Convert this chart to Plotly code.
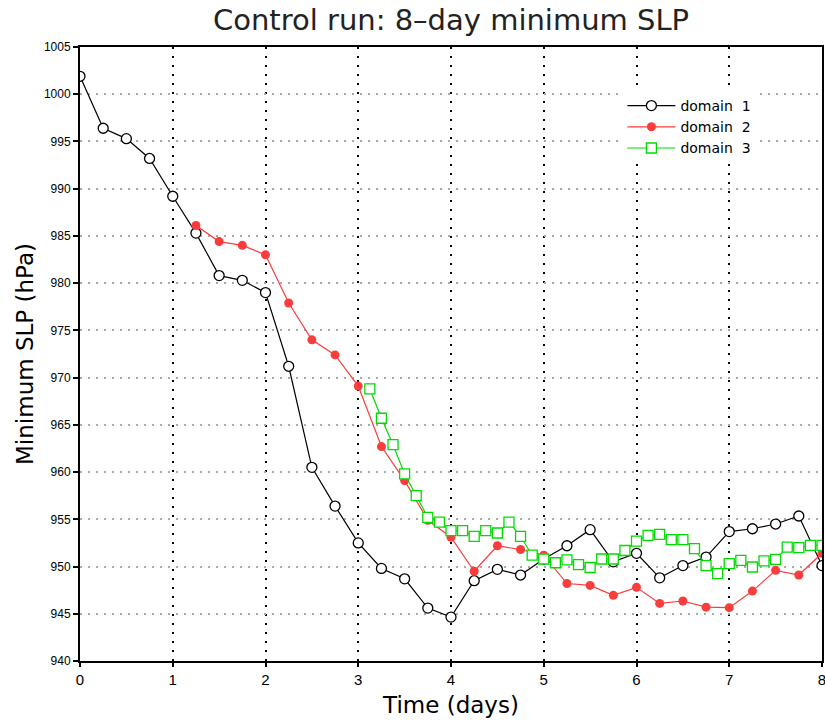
import plotly.graph_objects as go

# Domain 1: 6-hourly, t = 0 .. 8 days
d1_time = [i * 0.25 for i in range(33)]
d1_slp = [1001.9, 996.4, 995.3, 993.2, 989.2, 985.3, 980.8, 980.3, 979.0,
          971.2, 960.5, 956.4, 952.5, 949.8, 948.7, 945.6, 944.65, 948.5,
          949.7, 949.1, 950.8, 952.2, 953.9, 950.5, 951.4, 948.8, 950.1,
          951.0, 953.7, 954.0, 954.5, 955.35, 950.1]

# Domain 2: 6-hourly, t = 1.25 .. 8 days
d2_time = [1.25 + i * 0.25 for i in range(28)]
d2_slp = [986.1, 984.4, 984.0, 983.0, 977.9, 974.0, 972.4, 969.1, 962.7,
          959.1, 954.9, 953.1, 949.5, 952.2, 951.8, 951.2, 948.2, 948.0,
          946.95, 947.8, 946.1, 946.35, 945.7, 945.65, 947.4, 949.6, 949.1,
          951.4]

# Domain 3: 3-hourly, t = 3.125 .. 8 days
d3_time = [3.125 + i * 0.125 for i in range(40)]
d3_slp = [968.8, 965.7, 962.9, 959.8, 957.5, 955.2, 954.7, 953.8, 953.8,
          953.2, 953.8, 953.55, 954.7, 953.2, 951.2, 950.8, 950.4, 950.7,
          950.2, 949.9, 950.8, 950.8, 951.7, 952.7, 953.3, 953.4, 952.85,
          952.85, 951.9, 950.1, 949.25, 950.3, 950.65, 949.95, 950.6, 950.75,
          952.05, 952.0, 952.25, 952.25]

x_ticks = [0, 1, 2, 3, 4, 5, 6, 7, 8]
y_ticks = list(range(940, 1006, 5))

fig = go.Figure()
fig.add_trace(go.Scatter(
    x=d1_time, y=d1_slp, mode="lines+markers", name="domain  1",
    line=dict(color="black", width=1.2),
    marker=dict(symbol="circle", size=10, color="white",
                line=dict(color="black", width=1.3))))
fig.add_trace(go.Scatter(
    x=d2_time, y=d2_slp, mode="lines+markers", name="domain  2",
    line=dict(color="rgb(250,60,60)", width=1.2),
    marker=dict(symbol="circle", size=9, color="rgb(250,60,60)",
                line=dict(color="rgb(250,60,60)", width=0))))
fig.add_trace(go.Scatter(
    x=d3_time, y=d3_slp, mode="lines+markers", name="domain  3",
    line=dict(color="rgb(0,220,0)", width=1.2),
    marker=dict(symbol="square", size=10, color="white",
                line=dict(color="rgb(0,220,0)", width=1.3))))

fig.update_layout(
    width=825, height=721,
    margin=dict(l=80, r=1, t=47, b=60),
    paper_bgcolor="white", plot_bgcolor="white",
    title=dict(text="Control run: 8\u2013day minimum SLP",
               xref="paper", x=0.5, xanchor="center",
               yref="container", y=0.972, yanchor="middle",
               font=dict(family="DejaVu Sans", size=29, color="#222222")),
    showlegend=True,
    legend=dict(x=0.731, y=0.93, xanchor="left", yanchor="top",
                bgcolor="white", borderwidth=0,
                font=dict(family="DejaVu Sans", size=14, color="black"),
                itemwidth=48, tracegroupgap=0),
    font=dict(family="DejaVu Sans", color="black"),
)

fig.update_xaxes(
    range=[0, 8], tickvals=x_ticks, ticktext=[str(v) for v in x_ticks],
    automargin=False, ticklabeloverflow="allow",
    showline=True, linecolor="black", linewidth=2, mirror=True,
    ticks="outside", ticklen=4, tickwidth=1.5, tickcolor="black",
    showgrid=True, gridcolor="black", gridwidth=2, griddash="2px,7px",
    zeroline=False,
    tickfont=dict(family="Liberation Sans Narrow, Liberation Sans", size=15),
    title=dict(text="Time (days)", standoff=10,
               font=dict(family="DejaVu Sans", size=23)))

fig.update_yaxes(
    range=[940, 1005], tickvals=y_ticks, ticktext=[str(v) for v in y_ticks],
    showline=True, linecolor="black", linewidth=2, mirror=True,
    ticks="outside", ticklen=5, tickwidth=1.5, tickcolor="black",
    showgrid=True, gridcolor="#aaaaaa", gridwidth=1.5, griddash="2px,6px",
    zeroline=False,
    tickfont=dict(family="Liberation Sans Narrow, Liberation Sans", size=12),
    title=dict(text="Minimum SLP (hPa)", standoff=4,
               font=dict(family="DejaVu Sans", size=23)))

fig.write_html(
    "out.html",
    config={"displayModeBar": False},
    post_script="document.body.style.margin='0';"
                "document.body.style.overflow='hidden';")
